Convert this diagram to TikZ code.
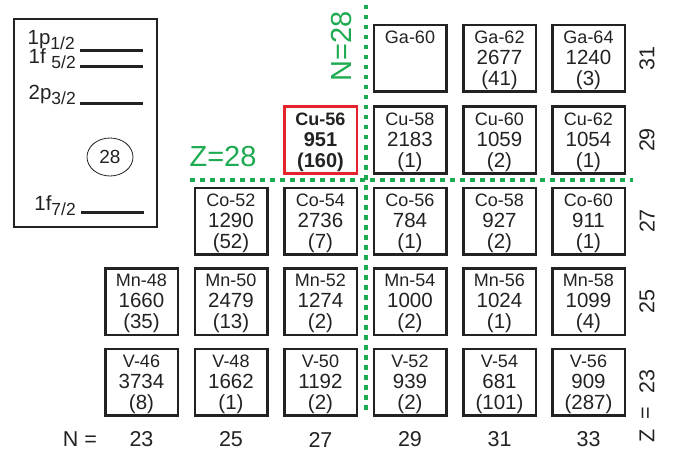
\documentclass[tikz,border=0pt]{standalone}
\usepackage{fontspec}
\setmainfont{Liberation Sans}
\usetikzlibrary{shapes.geometric}
\definecolor{mygreen}{RGB}{30,170,80}
\definecolor{myred}{RGB}{230,35,45}
\definecolor{boxgray}{RGB}{34,34,34}
\newcommand\nmline[1]{{\fontsize{18}{21}\selectfont\rule{0pt}{17pt}#1}}
\newcommand\subtxt[1]{\raisebox{-4.5pt}{\fontsize{17.5}{17.5}\selectfont #1}}
\tikzset{
  nucbox/.style={draw=boxgray, line width=2.5pt, minimum width=72.5pt, minimum height=66.5pt,
    inner sep=0pt, align=center, font=\fontsize{20.5}{21}\selectfont, text=boxgray},
  redbox/.style={nucbox, draw=myred, font=\bfseries\fontsize{20}{21}\selectfont},
  greendots/.style={draw=mygreen, line width=4.5pt, dash pattern=on 4.5pt off 5.5pt},
  greenlabel/.style={text=mygreen, font=\fontsize{29}{30}\selectfont, inner sep=0pt},
  axislabel/.style={font=\fontsize{21.5}{22}\selectfont, text=boxgray, inner sep=0pt},
  levelline/.style={line width=3pt, draw=boxgray},
  leveltxt/.style={font=\fontsize{20.5}{21}\selectfont, text=boxgray, inner sep=0pt, anchor=base east}
}
\begin{document}
\begin{tikzpicture}[x=1pt,y=-1pt]
\useasboundingbox (0,0) rectangle (681,452);
% legend
\node[draw=boxgray, line width=1.5pt, minimum width=143pt, minimum height=208pt, inner sep=0pt] (legend) at (85.5,123) {};
\coordinate (l1a) at (80,51); \coordinate (l1b) at (143,51);
\coordinate (l2a) at (80,67); \coordinate (l2b) at (143,67);
\coordinate (l3a) at (80,104); \coordinate (l3b) at (143,104);
\coordinate (l4a) at (81,212); \coordinate (l4b) at (144,212);
\draw[levelline] (l1a) -- (l1b);
\draw[levelline] (l2a) -- (l2b);
\draw[levelline] (l3a) -- (l3b);
\draw[levelline] (l4a) -- (l4b);
\node[leveltxt] (t1) at (75,45) {1p\subtxt{1/2}};
\node[leveltxt] (t2) at (76,64) {1f \subtxt{5/2}};
\node[leveltxt] (t3) at (76,100) {2p\subtxt{3/2}};
\node[leveltxt] (t4) at (76,211) {1f\subtxt{7/2}};
\node[draw=boxgray, line width=0.8pt, ellipse, minimum width=46pt, minimum height=38pt, inner sep=0pt,
  font=\fontsize{19}{19}\selectfont, text=boxgray] (magic) at (110,157) {28};
% green lines
\coordinate (vtop) at (366,5); \coordinate (vbot) at (366,415);
\coordinate (hl) at (190,180); \coordinate (hr) at (633,180);
\draw[greendots] (vtop) -- (vbot);
\draw[greendots] (hl) -- (hr);
\node[greenlabel, rotate=90] (nlab) at (342,46) {N=28};
\node[greenlabel] (zlab) at (223,157) {Z=28};
% row Z=31
\node[nucbox] (ga60) at (410,58.5) {\nmline{Ga-60}\\ \phantom{0}\\ \phantom{(0)}};
\node[nucbox] (ga62) at (499.5,58.5) {\nmline{Ga-62}\\ 2677\\ (41)};
\node[nucbox] (ga64) at (588.5,58.5) {\nmline{Ga-64}\\ 1240\\ (3)};
% row Z=29
\node[redbox] (cu56) at (320.5,140) {\nmline{Cu-56}\\ 951\\ (160)};
\node[nucbox] (cu58) at (410,140) {\nmline{Cu-58}\\ 2183\\ (1)};
\node[nucbox] (cu60) at (499.5,140) {\nmline{Cu-60}\\ 1059\\ (2)};
\node[nucbox] (cu62) at (588.5,140) {\nmline{Cu-62}\\ 1054\\ (1)};
% row Z=27
\node[nucbox] (co52) at (231,221) {\nmline{Co-52}\\ 1290\\ (52)};
\node[nucbox] (co54) at (320.5,221) {\nmline{Co-54}\\ 2736\\ (7)};
\node[nucbox] (co56) at (410,221) {\nmline{Co-56}\\ 784\\ (1)};
\node[nucbox] (co58) at (499.5,221) {\nmline{Co-58}\\ 927\\ (2)};
\node[nucbox] (co60) at (588.5,221) {\nmline{Co-60}\\ 911\\ (1)};
% row Z=25
\node[nucbox] (mn48) at (141.5,301.5) {\nmline{Mn-48}\\ 1660\\ (35)};
\node[nucbox] (mn50) at (231,301.5) {\nmline{Mn-50}\\ 2479\\ (13)};
\node[nucbox] (mn52) at (320.5,301.5) {\nmline{Mn-52}\\ 1274\\ (2)};
\node[nucbox] (mn54) at (410,301.5) {\nmline{Mn-54}\\ 1000\\ (2)};
\node[nucbox] (mn56) at (499.5,301.5) {\nmline{Mn-56}\\ 1024\\ (1)};
\node[nucbox] (mn58) at (588.5,301.5) {\nmline{Mn-58}\\ 1099\\ (4)};
% row Z=23
\node[nucbox] (v46) at (141.5,382) {\nmline{V-46}\\ 3734\\ (8)};
\node[nucbox] (v48) at (231,382) {\nmline{V-48}\\ 1662\\ (1)};
\node[nucbox] (v50) at (320.5,382) {\nmline{V-50}\\ 1192\\ (2)};
\node[nucbox] (v52) at (410,382) {\nmline{V-52}\\ 939\\ (2)};
\node[nucbox] (v54) at (499.5,382) {\nmline{V-54}\\ 681\\ (101)};
\node[nucbox] (v56) at (588.5,382) {\nmline{V-56}\\ 909\\ (287)};
% axis labels bottom
\node[axislabel] (nname) at (80,439.5) {N =};
\node[axislabel] (n23) at (141.5,439.5) {23};
\node[axislabel] (n25) at (231,439.5) {25};
\node[axislabel] (n27) at (320.5,439.5) {27};
\node[axislabel] (n29) at (410,439.5) {29};
\node[axislabel] (n31) at (499.5,439.5) {31};
\node[axislabel] (n33) at (588.5,439.5) {33};
% axis labels right
\node[axislabel, rotate=90] (z31) at (647,58.5) {31};
\node[axislabel, rotate=90] (z29) at (647,140) {29};
\node[axislabel, rotate=90] (z27) at (647,221) {27};
\node[axislabel, rotate=90] (z25) at (647,301.5) {25};
\node[axislabel, rotate=90] (z23) at (647,381.5) {23};
\node[axislabel, rotate=90] (zeq) at (647,413) {=};
\node[axislabel, rotate=90] (zname) at (647,436) {Z};
\end{tikzpicture}
\end{document}
